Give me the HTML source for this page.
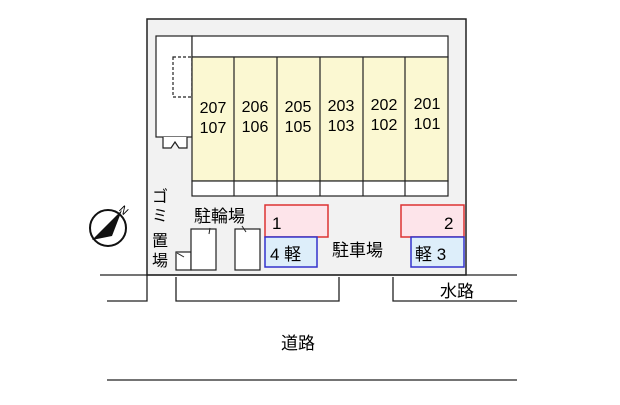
<!DOCTYPE html><html><head><meta charset="utf-8"><style>body{margin:0;background:#fff}svg text{font-family:"Liberation Sans","Noto Sans CJK JP",sans-serif;fill:#000}</style></head><body>
<svg width="620" height="400" viewBox="0 0 620 400" xmlns="http://www.w3.org/2000/svg">
<rect x="147" y="19" width="319" height="256" fill="#f2f2f2" stroke="#222" stroke-width="1.5"/>
<rect x="156" y="36" width="36" height="101" fill="#fff" stroke="#222" stroke-width="1.2"/>
<path d="M163 137 v11 h8 l4 -6 l4 6 h8 v-11" fill="#fff" stroke="#222" stroke-width="1.2"/>
<rect x="173" y="57" width="19" height="40" fill="none" stroke="#222" stroke-width="1.2" stroke-dasharray="3,2"/>
<rect x="192" y="36" width="256" height="21" fill="#fff" stroke="#222" stroke-width="1.2"/>
<rect x="192" y="57" width="256" height="124" fill="#fbf8d2" stroke="#222" stroke-width="1.2"/>
<rect x="192" y="181" width="256" height="15" fill="#fff" stroke="#222" stroke-width="1.2"/>
<g stroke="#222" stroke-width="1.2"><line x1="234" y1="57" x2="234" y2="196"/><line x1="277" y1="57" x2="277" y2="196"/><line x1="320" y1="57" x2="320" y2="196"/><line x1="363" y1="57" x2="363" y2="196"/><line x1="405" y1="57" x2="405" y2="196"/></g>
<g font-size="16" text-anchor="middle"><text x="213" y="113">207</text><text x="213" y="133">107</text><text x="255" y="112">206</text><text x="255" y="132">106</text><text x="298" y="112">205</text><text x="298" y="132">105</text><text x="341" y="111">203</text><text x="341" y="131">103</text><text x="384" y="110">202</text><text x="384" y="130">102</text><text x="427" y="109">201</text><text x="427" y="129">101</text></g>
<g font-size="16" text-anchor="middle"><text x="160" y="202">ゴ</text><text x="160" y="221">ミ</text><text x="160" y="246">置</text><text x="160" y="266">場</text></g>
<text x="194" y="222" font-size="17">駐輪場</text>
<rect x="176" y="252" width="15" height="18" fill="#fff" stroke="#222" stroke-width="1.2"/>
<rect x="191" y="229" width="25" height="41" fill="#fff" stroke="#222" stroke-width="1.2"/>
<rect x="235" y="229" width="25" height="41" fill="#fff" stroke="#222" stroke-width="1.2"/>
<g stroke="#222" stroke-width="1"><line x1="210" y1="228" x2="209" y2="234"/><line x1="242" y1="226" x2="246" y2="232"/><line x1="177" y1="253" x2="184" y2="257"/></g>
<rect x="265" y="205" width="63" height="32" fill="#fde4ea" stroke="#d33" stroke-width="1.5"/>
<rect x="401" y="205" width="63" height="32" fill="#fde4ea" stroke="#d33" stroke-width="1.5"/>
<rect x="265" y="237" width="52" height="30" fill="#ddeefa" stroke="#33c" stroke-width="1.5"/>
<rect x="411" y="237" width="53" height="30" fill="#ddeefa" stroke="#33c" stroke-width="1.5"/>
<text x="272" y="229" font-size="17">1</text><text x="444" y="229" font-size="17">2</text>
<text x="270" y="260" font-size="17">4 軽</text><text x="415" y="260" font-size="17">軽 3</text>
<text x="332" y="256" font-size="17">駐車場</text>
<circle cx="108" cy="228" r="18" fill="#fff" stroke="#111" stroke-width="2"/>
<path d="M92 240 L122 210 L112 236 Z" fill="#111"/>
<text x="120" y="214" font-size="11" transform="rotate(45 124 210)">N</text>
<g stroke="#222" stroke-width="1.3" fill="none"><line x1="100" y1="275" x2="517" y2="275"/><path d="M147 275 V301 H107"/><path d="M176 277 V301 H339 V277"/><path d="M393 277 V301 H517"/><line x1="107" y1="380" x2="517" y2="380"/></g>
<text x="440" y="297" font-size="17">水路</text>
<text x="281" y="349" font-size="17">道路</text>
</svg></body></html>
